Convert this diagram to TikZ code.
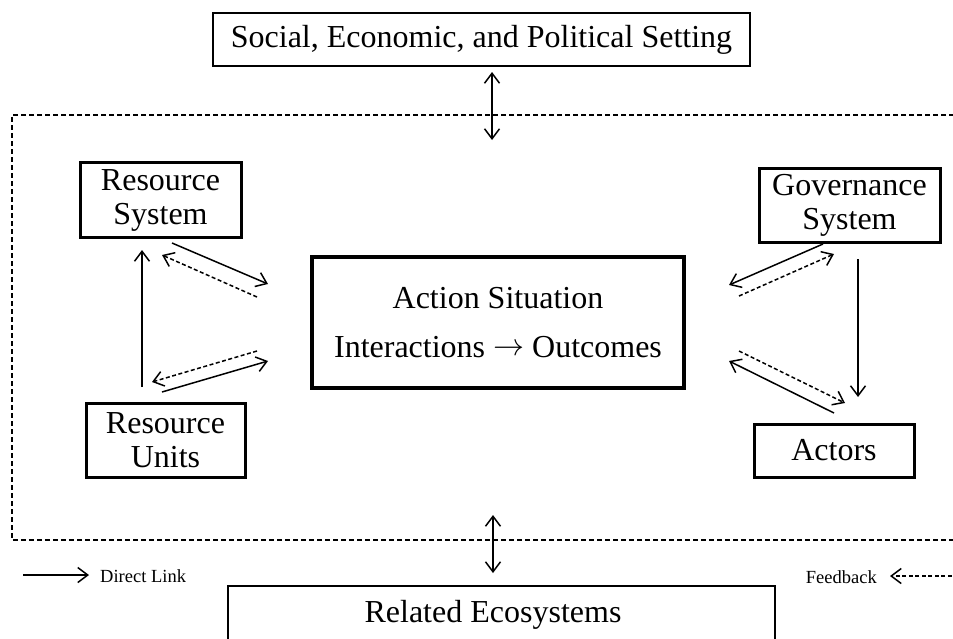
\documentclass[tikz,border=0pt]{standalone}
\usepackage{fontspec}
\usepackage{graphicx}
\setmainfont{Liberation Serif}
\usetikzlibrary{arrows.meta}
\newcommand{\bigrarrow}{\raisebox{1.5pt}{\scalebox{3.1}{\normalsize\(\rightarrow\)}}}
\begin{document}
\begin{tikzpicture}[x=1pt,y=-1pt,
  bigtext/.style={font=\fontsize{32}{34}\selectfont},
  thickbox/.style={draw,line width=3pt,align=center,inner sep=0pt,bigtext},
  thinbox/.style={draw,line width=1.5pt,align=center,inner sep=0pt,bigtext},
  barb/.tip={Straight Barb[length=10pt,width=15pt,line width=1.5pt]},
  direct/.style={line width=1.5pt,-barb},
  bothway/.style={line width=1.5pt,barb-barb},
  feedback/.style={line width=1.5pt,dash pattern=on 4pt off 2.5pt,-barb},
  legendtext/.style={font=\fontsize{18.5}{20}\selectfont,inner sep=0pt}
]
\useasboundingbox (0,0) rectangle (953,638);

% outer dashed frame
\coordinate (fr1) at (970,115);
\coordinate (fr2) at (12,115);
\coordinate (fr3) at (12,540);
\coordinate (fr4) at (970,540);
\draw[line width=1.3pt,dash pattern=on 5pt off 3pt] (fr1) -- (fr2) -- (fr3) -- (fr4);

% boxes
\node[thinbox,minimum width=537pt,minimum height=53pt] (setting) at (481.5,39.5) {Social, Economic, and Political Setting};
\node[thickbox,minimum width=161pt,minimum height=75pt] (RS) at (160.5,200) {Resource\\System};
\node[thickbox,minimum width=159pt,minimum height=74pt] (RU) at (165.5,440) {Resource\\Units};
\node[thickbox,line width=3.5pt,minimum width=372pt,minimum height=131pt,font=\fontsize{32}{49}\selectfont] (AS) at (498,322.5) {Action Situation\\Interactions \bigrarrow{} Outcomes};
\node[thickbox,minimum width=181pt,minimum height=74pt] (GS) at (849.5,205) {Governance\\System};
\node[thickbox,minimum width=160pt,minimum height=53pt] (AC) at (834,450.5) {Actors};
\node[thinbox,minimum width=547pt,minimum height=70pt,anchor=north] (RE) at (501.5,585) {};
\node[bigtext,inner sep=0pt] (REtext) at (493,615) {Related Ecosystems};

% vertical double arrows
\coordinate (t1) at (492,72);
\coordinate (t2) at (492,140);
\draw[bothway] (t1) -- (t2);
\coordinate (b1) at (493,515);
\coordinate (b2) at (493,573);
\draw[bothway] (b1) -- (b2);

% resource units -> resource system
\coordinate (ru1) at (142,387);
\coordinate (rs1) at (142,250);
\draw[direct] (ru1) -- (rs1);

% RS <-> AS
\coordinate (rsA) at (172,243);
\coordinate (asA) at (268,284);
\draw[direct] (rsA) -- (asA);
\coordinate (asB) at (257,297);
\coordinate (rsB) at (162,255);
\draw[feedback] (asB) -- (rsB);

% RU <-> AS
\coordinate (asC) at (257,351);
\coordinate (ruC) at (152,382);
\draw[feedback] (asC) -- (ruC);
\coordinate (ruD) at (162,392);
\coordinate (asD) at (268,361);
\draw[direct] (ruD) -- (asD);

% GS <-> AS
\coordinate (gsE) at (823,244);
\coordinate (asE) at (729,285);
\draw[direct] (gsE) -- (asE);
\coordinate (asF) at (739,296);
\coordinate (gsF) at (834,254);
\draw[feedback] (asF) -- (gsF);

% GS -> Actors
\coordinate (gsG) at (858,259);
\coordinate (acG) at (858,397);
\draw[direct] (gsG) -- (acG);

% Actors <-> AS
\coordinate (asH) at (739,351);
\coordinate (acH) at (845,403);
\draw[feedback] (asH) -- (acH);
\coordinate (acI) at (834,413);
\coordinate (asI) at (729,361);
\draw[direct] (acI) -- (asI);

% legend
\coordinate (l1) at (23,575);
\coordinate (l2) at (89,575);
\draw[direct] (l1) -- (l2);
\node[legendtext,anchor=west] (dl) at (100,576) {Direct Link};
\node[legendtext,anchor=east] (fb) at (877,577) {Feedback};
\coordinate (f1) at (958,576);
\coordinate (f2) at (890,576);
\draw[feedback] (f1) -- (f2);
\end{tikzpicture}
\end{document}
